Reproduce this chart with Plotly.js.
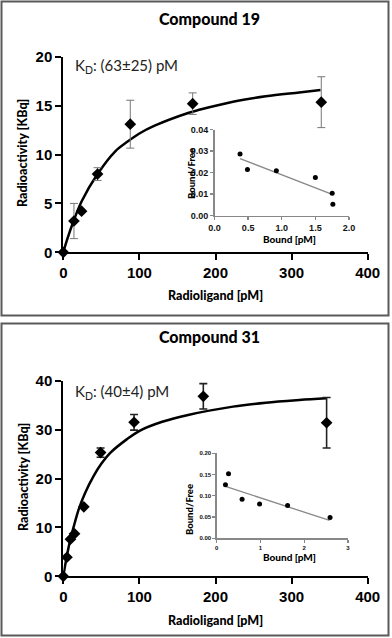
<!DOCTYPE html>
<html>
<head>
<meta charset="utf-8">
<script src="https://cdn.plot.ly/plotly-3.0.1.min.js"></script>
<style>
  html, body { margin: 0; padding: 0; background: #fff; }
  #chart { width: 392px; height: 638px; }
</style>
</head>
<body>
<div id="chart"></div>
<script>
// Compound 19 - saturation binding
const conc19 = [0, 14, 24, 45, 88, 170, 339];
const act19 = [0, 3.2, 4.2, 8.0, 13.1, 15.2, 15.35];
const err19 = [0, 1.8, 0, 0.65, 2.45, 1.1, 2.6];
const fitX19 = [0, 5, 14, 24, 45, 68, 85, 100, 120, 164, 180, 223, 266, 310, 338];
const fitY19 = [0, 1.3, 3.3, 5.2, 8.0, 10.3, 11.35, 12.15, 12.95, 14.25, 14.6, 15.4, 15.95, 16.35, 16.6];

// Compound 19 - Scatchard inset
const bound19 = [0.38, 0.49, 0.92, 1.50, 1.75, 1.76];
const bf19 = [0.0286, 0.0214, 0.0208, 0.0177, 0.0103, 0.0052];
const lineX19 = [0.38, 1.75];
const lineY19 = [0.0265, 0.0098];

// Compound 31 - saturation binding
const conc31 = [0, 4.8, 9.4, 14.8, 27, 49, 93, 184, 346];
const act31 = [0, 3.9, 7.6, 8.7, 14.2, 25.3, 31.5, 36.8, 31.4];
const err31 = [0, 0, 0, 0, 0, 0.95, 1.6, 2.6, 5.15];
const fitX31 = [0, 4.5, 9.5, 15, 20, 28.5, 39.4, 50.4, 61.4, 83.3, 100.8, 130, 164, 223, 266, 310, 346];
const fitY31 = [0, 4.0, 7.7, 10.9, 13.6, 17.0, 20.4, 23.1, 25.2, 28.0, 29.8, 31.6, 33.0, 34.7, 35.5, 36.05, 36.4];

// Compound 31 - Scatchard inset
const bound31 = [0.20, 0.27, 0.58, 0.98, 1.62, 2.59];
const bf31 = [0.126, 0.152, 0.092, 0.081, 0.077, 0.049];
const lineX31 = [0.20, 2.58];
const lineY31 = [0.122, 0.042];

const titles = ['Compound 19', 'Compound 31'];
const kdLabels = ['K<sub>D</sub>: (63±25) pM', 'K<sub>D</sub>: (40±4) pM'];

// pixel -> paper helpers
const W = 392, H = 638;
const px = (x) => x / W;
const py = (y) => 1 - y / H;

const labelFont = 'Lato, "Open Sans", sans-serif';
const tickFontMain = {family: 'Arial, "Liberation Sans", sans-serif', size: 15, color: '#000', weight: 700};
const tickFontInset = (s) => ({family: 'Arial, "Liberation Sans", sans-serif', size: s, color: '#111', weight: 700});

const dataTrace = (x, y, err, errColor, errThick, xa, ya) => ({
  x: x, y: y, xaxis: xa, yaxis: ya,
  mode: 'markers', type: 'scatter', cliponaxis: false,
  marker: {symbol: 'diamond', size: 9, color: '#000'},
  error_y: {type: 'data', array: err, visible: true, color: errColor, thickness: errThick, width: 4},
});

const fitTrace = (x, y, xa, ya) => ({
  x: x, y: y, xaxis: xa, yaxis: ya,
  mode: 'lines', type: 'scatter', cliponaxis: false,
  line: {color: '#000', width: 2.5, shape: 'spline', smoothing: 1},
});

const insetPoints = (x, y, xa, ya) => ({
  x: x, y: y, xaxis: xa, yaxis: ya,
  mode: 'markers', type: 'scatter', cliponaxis: false,
  marker: {symbol: 'circle', size: 5, color: '#000'},
});

const insetLine = (x, y, xa, ya) => ({
  x: x, y: y, xaxis: xa, yaxis: ya,
  mode: 'lines', type: 'scatter',
  line: {color: '#888', width: 1.3},
});

const traces = [
  fitTrace(fitX19, fitY19, 'x', 'y'),
  dataTrace(conc19, act19, err19, '#777', 1, 'x', 'y'),
  insetLine(lineX19, lineY19, 'x2', 'y2'),
  insetPoints(bound19, bf19, 'x2', 'y2'),
  fitTrace(fitX31, fitY31, 'x3', 'y3'),
  dataTrace(conc31, act31, err31, '#222', 1.6, 'x3', 'y3'),
  insetLine(lineX31, lineY31, 'x4', 'y4'),
  insetPoints(bound31, bf31, 'x4', 'y4'),
];

const mainAxis = (domain, range, dtick, anchor) => ({
  domain: domain, range: range, dtick: dtick, tick0: 0, anchor: anchor,
  showline: true, linecolor: '#000', linewidth: 2,
  ticks: 'outside', ticklen: 6, tickwidth: 2, tickcolor: '#000',
  showgrid: false, zeroline: false, tickfont: tickFontMain, fixedrange: true,
});

const insetAxis = (domain, range, dtick, fmt, size, anchor) => ({
  domain: domain, range: range, dtick: dtick, tick0: 0, tickformat: fmt, anchor: anchor,
  showline: true, linecolor: '#888', linewidth: 1.3,
  ticks: 'outside', ticklen: 3, tickwidth: 1.3, tickcolor: '#888',
  showgrid: false, zeroline: false, tickfont: tickFontInset(size), fixedrange: true,
});

const ann = (text, x, y, size, opts) => Object.assign({
  text: text, x: px(x), y: py(y), xref: 'paper', yref: 'paper',
  showarrow: false, xanchor: 'center', yanchor: 'middle',
  font: {family: labelFont, size: size, color: '#000', weight: 900},
}, opts || {});

const layout = {
  width: W, height: H, autosize: false,
  margin: {l: 0, r: 0, t: 0, b: 0},
  paper_bgcolor: '#fff', plot_bgcolor: 'rgba(0,0,0,0)',
  showlegend: false,
  xaxis: mainAxis([px(63.3), px(367.7)], [0, 400], 100, 'y'),
  yaxis: mainAxis([py(252.3), py(56.7)], [0, 20], 5, 'x'),
  xaxis2: insetAxis([px(214.5), px(349)], [0, 2], 0.5, '.1f', 9, 'y2'),
  yaxis2: insetAxis([py(215.5), py(129.5)], [0, 0.04], 0.01, '.2f', 9, 'x2'),
  xaxis3: mainAxis([px(63.3), px(367.7)], [0, 400], 100, 'y3'),
  yaxis3: mainAxis([py(576.3), py(380.7)], [0, 40], 10, 'x3'),
  xaxis4: insetAxis([px(216.7), px(348)], [0, 3], 1, 'd', 6, 'y4'),
  yaxis4: insetAxis([py(538.3), py(453.3)], [0, 0.2], 0.05, '.2f', 6, 'x4'),
  shapes: [
    {type: 'rect', xref: 'paper', yref: 'paper', x0: px(1.5), x1: px(388.5), y0: py(315.5), y1: py(1.5),
      line: {color: '#5a5a5a', width: 2}},
    {type: 'rect', xref: 'paper', yref: 'paper', x0: px(1.5), x1: px(388.5), y0: py(635.5), y1: py(323.5),
      line: {color: '#5a5a5a', width: 2}},
  ],
  annotations: [
    ann(titles[0], 209, 18, 16),
    ann(titles[1], 209, 336, 16),
    ann(kdLabels[0], 73, 66, 15, {xanchor: 'left', font: {family: labelFont, size: 15, color: '#222'}}),
    ann(kdLabels[1], 73, 392, 15, {xanchor: 'left', font: {family: labelFont, size: 15, color: '#222'}}),
    ann('Radioligand [pM]', 215, 295, 12.5),
    ann('Radioligand [pM]', 215, 620, 12.5),
    ann('Radioactivity [KBq]', 23, 153, 12.5, {textangle: -90}),
    ann('Radioactivity [KBq]', 23, 477, 12.5, {textangle: -90}),
    ann('Bound/Free', 191, 174, 9.5, {textangle: -90}),
    ann('Bound [pM]', 289, 239, 10),
    ann('Bound/Free', 190, 510, 9.5, {textangle: -90}),
    ann('Bound [pM]', 289, 557, 10),
  ],
};

Plotly.newPlot(document.getElementById('chart'), traces, layout, {staticPlot: true});
</script>
</body>
</html>
